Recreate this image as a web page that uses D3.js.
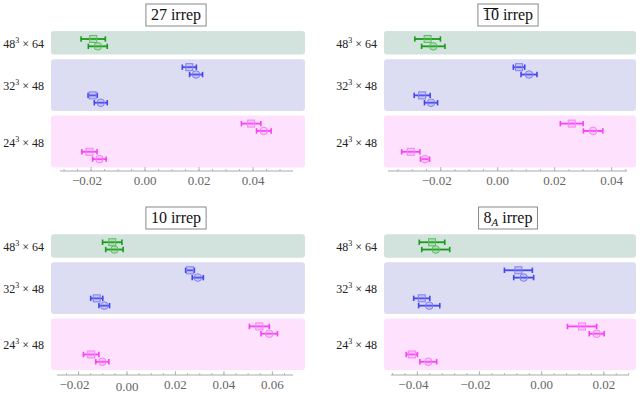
<!DOCTYPE html>
<html>
<head>
<meta charset="utf-8">
<script src="https://cdn.jsdelivr.net/npm/d3@7"></script>
<style>
  body { margin: 0; background: #fff; }
  text { font-family: "Liberation Serif", "DejaVu Serif", serif; }
</style>
</head>
<body>
<svg id="chart" width="643" height="394"></svg>
<script>
// lattice labels, one band per lattice
var lattices = ["48", "32", "24"],
    latTime = ["64", "48", "48"];
// which lattice each of the 5 rows belongs to (top to bottom)
var rowLattice = [0, 1, 1, 2, 2];

// 27 irrep
var sq27 = [-0.0192, 0.0164, -0.0194, 0.0393, -0.0206],
    sqErr27 = [0.0045, 0.0026, 0.0017, 0.0036, 0.0028],
    ci27 = [-0.0175, 0.0189, -0.0164, 0.0440, -0.0169],
    ciErr27 = [0.0035, 0.0024, 0.0024, 0.0027, 0.0025];

// 10bar irrep
var sq10b = [-0.0246, 0.0075, -0.0265, 0.0260, -0.0305],
    sqErr10b = [0.0045, 0.0020, 0.0028, 0.0040, 0.0032],
    ci10b = [-0.0226, 0.0110, -0.0234, 0.0335, -0.0255],
    ciErr10b = [0.0041, 0.0028, 0.0023, 0.0034, 0.0016];

// 10 irrep
var sq10 = [-0.0061, 0.0260, -0.0125, 0.0546, -0.0148],
    sqErr10 = [0.0040, 0.0018, 0.0025, 0.0041, 0.0032],
    ci10 = [-0.0052, 0.0292, -0.0094, 0.0587, -0.0102],
    ciErr10 = [0.0036, 0.0023, 0.0022, 0.0034, 0.0027];

// 8_A irrep
var sq8 = [-0.0353, -0.0075, -0.0386, 0.0130, -0.0418],
    sqErr8 = [0.0041, 0.0045, 0.0026, 0.0047, 0.0018],
    ci8 = [-0.0341, -0.0058, -0.0362, 0.0177, -0.0365],
    ciErr8 = [0.0045, 0.0032, 0.0034, 0.0024, 0.0027];

// axis ranges and tick values per panel
var dom27 = [-0.0315, 0.0548], ticks27 = [-0.02, 0, 0.02, 0.04],
    dom10b = [-0.0385, 0.0454], ticks10b = [-0.02, 0, 0.02, 0.04],
    dom10 = [-0.0289, 0.0685], ticks10 = [-0.02, 0, 0.02, 0.04, 0.06],
    dom8 = [-0.0485, 0.0281], ticks8 = [-0.04, -0.02, 0, 0.02];

var panels = [
  {title: "27", sq: sq27, sqErr: sqErr27, ci: ci27, ciErr: ciErr27, dom: dom27, ticks: ticks27, minor: 0.005,
   left: 51, right: 305, axL: 60, axR: 293, top: 31, bottom: 167.4, axisY: 171, titleY: 4},
  {title: "10bar", sq: sq10b, sqErr: sqErr10b, ci: ci10b, ciErr: ciErr10b, dom: dom10b, ticks: ticks10b, minor: 0.005,
   left: 384, right: 636, axL: 388, axR: 627, top: 31, bottom: 167.4, axisY: 171, titleY: 4},
  {title: "10", sq: sq10, sqErr: sqErr10, ci: ci10, ciErr: ciErr10, dom: dom10, ticks: ticks10, minor: 0.005,
   left: 51, right: 305, axL: 57, axR: 293, top: 234.3, bottom: 370, axisY: 375, titleY: 207},
  {title: "8A", sq: sq8, sqErr: sqErr8, ci: ci8, ciErr: ciErr8, dom: dom8, ticks: ticks8, minor: 0.004,
   left: 384, right: 636, axL: 391, axR: 629, top: 234.3, bottom: 370, axisY: 375, titleY: 207}
];

var bandFill = ["#d1e3dc", "#dcdcf2", "#fde1fd"],
    barColor = ["#179c17", "#4545f0", "#f740f7"],
    markColor = ["#5cbf5c", "#7f7ff5", "#fb7ffb"];

var svg = d3.select("#chart");
var fmt = function(d) { return d3.format(".2f")(d).replace("-", "\u2212"); };

panels.forEach(function(p) {
  var g = svg.append("g");
  var gap = 2.3;

  var x = d3.scaleLinear().domain(p.dom).range([p.axL, p.axR]);
  var y = d3.scaleLinear().domain([-0.5, 4.5]).range([p.top - gap, p.bottom + gap]);

  // lattice bands
  var spans = [[-0.5, 0.5], [0.5, 2.5], [2.5, 4.5]];
  spans.forEach(function(s, i) {
    g.append("rect")
      .attr("x", p.left)
      .attr("y", y(s[0]) + gap)
      .attr("width", p.right - p.left)
      .attr("height", y(s[1]) - y(s[0]) - 2 * gap)
      .attr("rx", 3)
      .attr("fill", bandFill[i]);

    var lab = g.append("text")
      .attr("x", p.left - 7)
      .attr("y", (y(s[0]) + y(s[1])) / 2 + 5)
      .attr("text-anchor", "end")
      .attr("font-size", 12)
      .attr("fill", "#222");
    lab.append("tspan").text(lattices[i]);
    lab.append("tspan").attr("dy", -5).attr("font-size", 8).text("3");
    lab.append("tspan").attr("dy", 5).text(" \u00d7 " + latTime[i]);
  });

  // error bars with caps
  function drawSeries(vals, errs, off, shape) {
    vals.forEach(function(v, i) {
      var c = rowLattice[i],
          yy = y(i + off),
          x0 = x(v - errs[i]),
          x1 = x(v + errs[i]);
      g.append("line").attr("x1", x0).attr("x2", x1).attr("y1", yy).attr("y2", yy)
        .attr("stroke", barColor[c]).attr("stroke-width", 1.8);
      [x0, x1].forEach(function(xc) {
        g.append("line").attr("x1", xc).attr("x2", xc).attr("y1", yy - 2.7).attr("y2", yy + 2.7)
          .attr("stroke", barColor[c]).attr("stroke-width", 1.6);
      });
      if (shape == "sq") {
        g.append("rect").attr("x", x(v) - 3.5).attr("y", yy - 3.5)
          .attr("width", 7).attr("height", 7)
          .attr("fill", markColor[c]).attr("fill-opacity", 0.25)
          .attr("stroke", markColor[c]).attr("stroke-width", 1);
      } else {
        g.append("circle").attr("cx", x(v)).attr("cy", yy).attr("r", 3.8)
          .attr("fill", markColor[c]).attr("fill-opacity", 0.25)
          .attr("stroke", markColor[c]).attr("stroke-width", 1);
      }
    });
  }
  drawSeries(p.sq, p.sqErr, -0.135, "sq");
  drawSeries(p.ci, p.ciErr, 0.125, "ci");

  // bottom axis, ticks pointing up
  var minorTicks = d3.range(Math.ceil(p.dom[0] / p.minor) * p.minor, p.dom[1], p.minor);
  var ax = g.append("g").attr("transform", "translate(0," + p.axisY + ")");
  ax.append("line").attr("x1", p.axL).attr("x2", p.axR)
    .attr("stroke", "#aaa").attr("stroke-width", 1);
  ax.selectAll(".minor").data(minorTicks).enter().append("line")
    .attr("x1", function(d) { return x(d); }).attr("x2", function(d) { return x(d); })
    .attr("y1", 0).attr("y2", -2).attr("stroke", "#aaa").attr("stroke-width", 0.8);
  ax.selectAll(".major").data(p.ticks).enter().append("line")
    .attr("x1", function(d) { return x(d); }).attr("x2", function(d) { return x(d); })
    .attr("y1", 0).attr("y2", -4).attr("stroke", "#aaa").attr("stroke-width", 0.8);
  ax.selectAll(".lab").data(p.ticks).enter().append("text")
    .attr("x", function(d) { return x(d) - (d < 0 ? 4 : 0); })
    .attr("y", function(d) { return (p.title == "10" && d == 0) ? 16 : 14; })
    .attr("text-anchor", "middle")
    .attr("font-size", 13)
    .attr("fill", "#666")
    .text(fmt);

  // title in a box
  var cx = (p.left + p.right) / 2 - 2;
  var t = g.append("text")
    .attr("x", cx).attr("y", p.titleY + 16)
    .attr("text-anchor", "middle")
    .attr("font-size", 16)
    .attr("fill", "#111");
  if (p.title == "8A") {
    t.append("tspan").text("8");
    t.append("tspan").attr("dy", 3).attr("font-size", 11).attr("font-style", "italic").text("A");
    t.append("tspan").attr("dy", -3).text(" irrep");
  } else if (p.title == "10bar") {
    t.append("tspan").attr("class", "ov").text("10");
    t.append("tspan").text(" irrep");
  } else {
    t.text(p.title + " irrep");
  }
  var bb = t.node().getBBox();
  g.append("rect")
    .attr("x", bb.x - 5).attr("y", p.titleY)
    .attr("width", bb.width + 10).attr("height", 22)
    .attr("fill", "#fff").attr("stroke", "#888").attr("stroke-width", 1);
  t.raise();
  if (p.title == "10bar") {
    var w10 = t.select(".ov").node().getComputedTextLength();
    g.append("line").attr("x1", bb.x + 0.5).attr("x2", bb.x + w10 - 0.5)
      .attr("y1", p.titleY + 4.5).attr("y2", p.titleY + 4.5)
      .attr("stroke", "#111").attr("stroke-width", 1);
  }
});
</script>
</body>
</html>
